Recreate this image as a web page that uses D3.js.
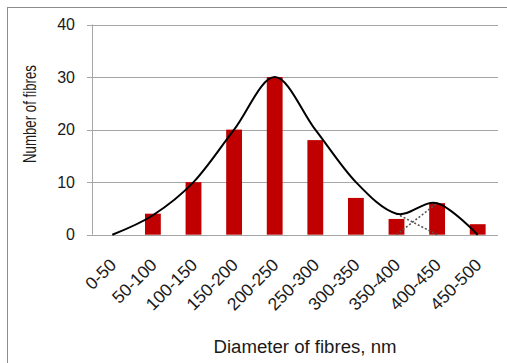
<!DOCTYPE html>
<html>
<head>
<meta charset="utf-8">
<script src="https://cdn.jsdelivr.net/npm/d3@7"></script>
<style>
  body { margin: 0; background: #fff; }
  text { font-family: "Liberation Sans", Arial, sans-serif; fill: #1a1a1a; }
</style>
</head>
<body>
<svg id="chart" width="507" height="363"></svg>
<script>
const categories = ['0-50', '50-100', '100-150', '150-200', '200-250', '250-300', '300-350', '350-400', '400-450', '450-500']
const counts = [0, 4, 10, 20, 30, 18, 7, 3, 6, 2]
const fitCurve = [0, 3.7, 10, 20, 30, 20, 10, 4, 6, 0]
// two dotted component lines near the second peak
const peakA = [{cat: '350-400', v: 0}, {cat: '400-450', v: 6}]
const peakB = [{cat: '350-400', v: 4}, {cat: '400-450', v: 0}]
const yTicks = [0, 10, 20, 30, 40]

const plotLeft = 92, plotRight = 498, plotTop = 24.5, plotBottom = 234.7

const svg = d3.select('#chart')

svg.append('rect')
  .attr('x', 7.5).attr('y', 7.5)
  .attr('width', 520).attr('height', 380)
  .attr('fill', 'none').attr('stroke', '#8c8c8c')

const x = d3.scaleBand().domain(categories).range([plotLeft, plotRight]).padding(0)
const y = d3.scaleLinear().domain([0, 40]).range([plotBottom, plotTop])
const cx = (c) => x(c) + x.bandwidth() / 2

// gridlines + tick marks
svg.append('g')
  .selectAll('line')
  .data(yTicks)
  .join('line')
  .attr('x1', plotLeft - 5).attr('x2', plotRight)
  .attr('y1', (d) => Math.round(y(d)) + 0.5)
  .attr('y2', (d) => Math.round(y(d)) + 0.5)
  .attr('stroke', '#a6a6a6')

svg.append('line')
  .attr('x1', plotLeft + 0.5).attr('x2', plotLeft + 0.5)
  .attr('y1', y(40)).attr('y2', y(0))
  .attr('stroke', '#a6a6a6')

svg.append('g')
  .selectAll('text')
  .data(yTicks)
  .join('text')
  .attr('x', 75)
  .attr('y', (d) => y(d))
  .attr('dy', '0.35em')
  .attr('text-anchor', 'end')
  .attr('font-size', 16)
  .text((d) => d)

// bars
const barW = x.bandwidth() * 0.39
svg.append('g')
  .selectAll('rect')
  .data(categories)
  .join('rect')
  .attr('x', (d) => cx(d) - barW / 2)
  .attr('y', (d, i) => y(counts[i]))
  .attr('width', barW)
  .attr('height', (d, i) => y(0) - y(counts[i]))
  .attr('fill', '#c00000')

// dotted components
const dotLine = d3.line().x((d) => cx(d.cat)).y((d) => y(d.v))
svg.append('g')
  .selectAll('path')
  .data([peakA, peakB])
  .join('path')
  .attr('d', dotLine)
  .attr('fill', 'none')
  .attr('stroke', '#555')
  .attr('stroke-width', 1.6)
  .attr('stroke-dasharray', '2,2')

// smooth fit
const fitLine = d3.line()
  .x((d, i) => cx(categories[i]))
  .y((d) => y(d))
  .curve(d3.curveCardinal)
svg.append('path')
  .attr('d', fitLine(fitCurve))
  .attr('fill', 'none')
  .attr('stroke', '#000')
  .attr('stroke-width', 2)

// category labels, rotated
svg.append('g')
  .selectAll('text')
  .data(categories)
  .join('text')
  .attr('transform', (d) => `translate(${cx(d) + 5},${266}) rotate(-45)`)
  .attr('text-anchor', 'end')
  .attr('font-size', 17.5)
  .text((d) => d)

svg.append('text')
  .attr('x', 305).attr('y', 353)
  .attr('text-anchor', 'middle')
  .attr('font-size', 18)
  .attr('textLength', 183)
  .attr('lengthAdjust', 'spacingAndGlyphs')
  .text('Diameter of fibres, nm')

svg.append('text')
  .attr('transform', 'translate(36,114) rotate(-90)')
  .attr('text-anchor', 'middle')
  .attr('font-size', 18)
  .attr('textLength', 98)
  .attr('lengthAdjust', 'spacingAndGlyphs')
  .text('Number of fibres')
</script>
</body>
</html>
